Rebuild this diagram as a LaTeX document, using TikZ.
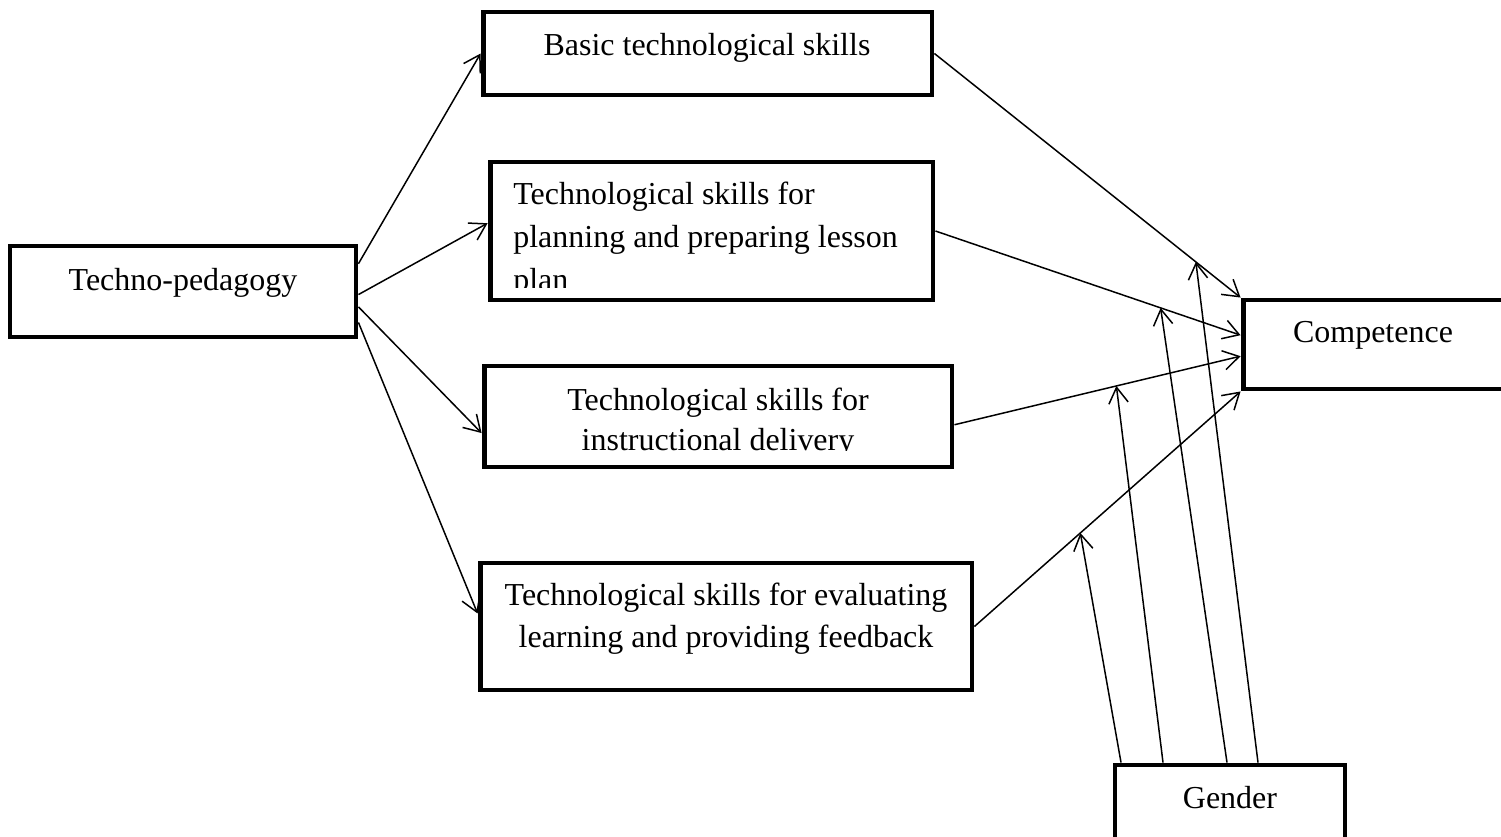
\documentclass[tikz,border=0pt]{standalone}
\usepackage{fontspec}
\setmainfont{Liberation Serif}
\usetikzlibrary{arrows.meta}

\tikzset{
  box/.style={draw=black, line width=2.8pt, rectangle, inner sep=0pt},
  lbl/.style={font=\fontsize{18.2}{24}\selectfont, inner sep=0pt},
  link/.style={black, line width=0.85pt, ->},
}

\begin{document}
\begin{tikzpicture}[x=0.02cm, y=-0.02cm, >={Straight Barb[length=9pt,width=11pt]}]
  \useasboundingbox (0,0) rectangle (1501,836);
  \clip (0,0) rectangle (1501,836);

  % Boxes
  \node[box, minimum width=6.92cm, minimum height=1.82cm] (techno) at (183,291.5) {};
  \node[box, minimum width=8.98cm, minimum height=1.66cm] (basic) at (707.5,53.5) {};
  \node[box, minimum width=8.86cm, minimum height=2.76cm] (plan) at (711.5,231) {};
  \node[box, minimum width=9.36cm, minimum height=2.02cm] (deliv) at (718,416.5) {};
  \node[box, minimum width=9.84cm, minimum height=2.54cm] (eval) at (726,626.5) {};
  \node[box, minimum width=5.24cm, minimum height=1.78cm] (comp) at (1374,344.5) {};
  \node[box, minimum width=4.60cm, minimum height=1.48cm] (gender) at (1230,802) {};

  % Labels (anchor=base sits on the last line)
  \node[lbl, anchor=base] (technotxt) at (183,290) {Techno-pedagogy};
  \node[lbl, anchor=base] (basictxt) at (707,55) {Basic technological skills};
  \begin{scope}
    \clip (plan.north west) rectangle (933,287);
    \node[lbl, anchor=base west, align=left, font=\fontsize{18.2}{24.4}\selectfont] (plantxt) at (513,290)
      {Technological skills for\\planning and preparing lesson\\plan};
  \end{scope}
  \begin{scope}
    \clip (deliv.north west) rectangle (952,450.5);
    \node[lbl, anchor=base, align=center, font=\fontsize{18.2}{22.7}\selectfont] (delivtxt) at (718,450)
      {Technological skills for\\instructional delivery};
  \end{scope}
  \node[lbl, anchor=base, align=center, font=\fontsize{18.2}{23.8}\selectfont] (evaltxt) at (726,647)
    {Technological skills for evaluating\\learning and providing feedback};
  \node[lbl, anchor=base] (comptxt) at (1373,342) {Competence};
  \node[lbl, anchor=base] (gendertxt) at (1230,808) {Gender};

  % Techno-pedagogy to the four skill sets
  \draw[link] (techno.9) -- (basic.west);
  \draw[link] (techno.-1) -- (plan.178);
  \draw[link] (techno.-5) -- (deliv.184);
  \draw[link] (techno.-10) -- (eval.177);

  % Skill sets to competence
  \draw[link] (basic.east) -- coordinate[pos=0.854] (m1) (comp.north west);
  \draw[link] (plan.east) -- coordinate[pos=0.738] (m2) (comp.176);
  \draw[link] (deliv.-2) -- coordinate[pos=0.566] (m3) (comp.185);
  \draw[link] (eval.east) -- coordinate[pos=0.398] (m4) (comp.south west);

  % Gender as moderator
  \draw[link] ([xshift=-2.18cm]gender.north) -- (m4);
  \draw[link] ([xshift=-1.34cm]gender.north) -- (m3);
  \draw[link] ([xshift=-0.06cm]gender.north) -- (m2);
  \draw[link] ([xshift=0.56cm]gender.north) -- (m1);
\end{tikzpicture}
\end{document}
